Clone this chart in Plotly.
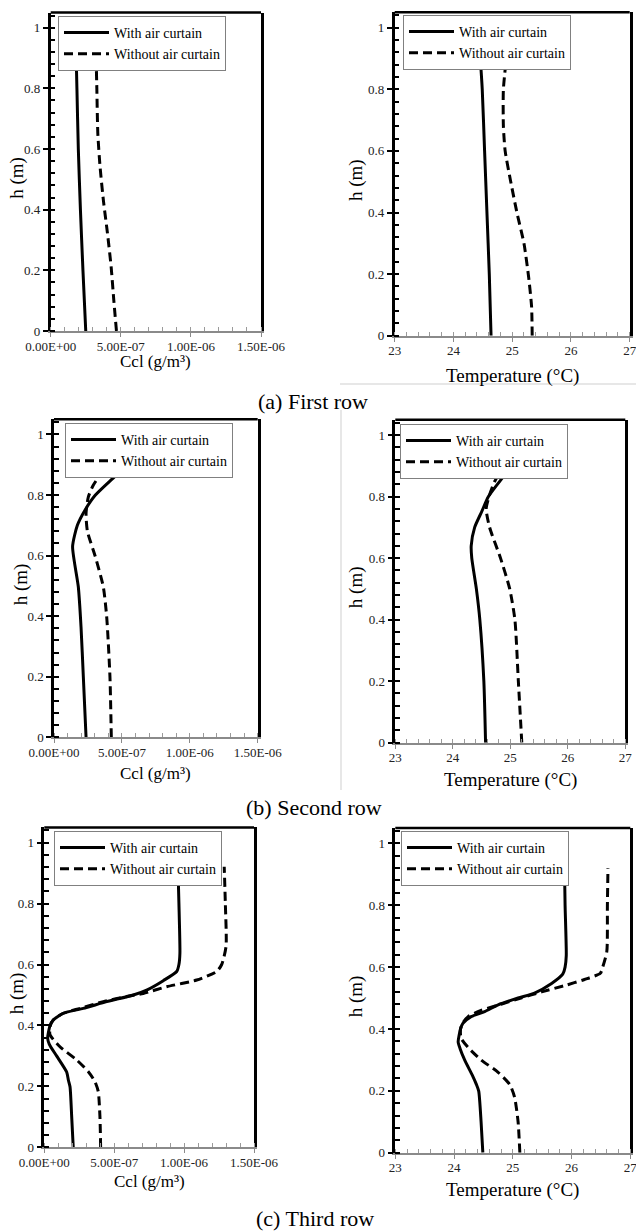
import plotly.graph_objects as go

W, H = 636, 1232
FONT = "Liberation Serif"

# ---------------- data ----------------
# (a) First row
h_a_with = [0, 0.2, 0.4, 0.6, 0.8, 0.92]
ccl_a_with = [2.50e-7, 2.30e-7, 2.12e-7, 1.97e-7, 1.87e-7, 1.81e-7]
h_a_without = [0, 0.102, 0.212, 0.322, 0.43, 0.542, 0.652, 0.8, 0.90]
ccl_a_without = [4.69e-7, 4.50e-7, 4.31e-7, 4.05e-7, 3.76e-7, 3.52e-7, 3.36e-7, 3.29e-7, 3.24e-7]

h_ta_with = [0, 0.2, 0.4, 0.6, 0.8, 0.92]
temp_a_with = [24.64, 24.61, 24.57, 24.53, 24.49, 24.45]
h_ta_without = [0, 0.094, 0.19, 0.30, 0.40, 0.505, 0.60, 0.68, 0.80, 0.917]
temp_a_without = [25.34, 25.33, 25.28, 25.20, 25.08, 24.97, 24.88, 24.85, 24.85, 24.91]

# (b) Second row
h_b_with = [0, 0.2, 0.365, 0.497, 0.63, 0.70, 0.75, 0.80, 0.86, 0.92]
ccl_b_with = [2.36e-7, 2.16e-7, 1.99e-7, 1.79e-7, 1.37e-7, 1.72e-7, 2.28e-7, 3.05e-7, 4.45e-7, 5.84e-7]
h_b_without = [0, 0.2, 0.398, 0.497, 0.60, 0.68, 0.74, 0.794, 0.833, 0.88, 0.92]
ccl_b_without = [4.22e-7, 4.12e-7, 3.88e-7, 3.63e-7, 3.02e-7, 2.46e-7, 2.36e-7, 2.53e-7, 2.90e-7, 3.63e-7, 4.73e-7]

h_tb_with = [0, 0.2, 0.4, 0.5, 0.6, 0.64, 0.7, 0.75, 0.8, 0.86, 0.92]
temp_b_with = [24.57, 24.54, 24.47, 24.41, 24.33, 24.32, 24.38, 24.50, 24.62, 24.86, 25.12]
h_tb_without = [0, 0.2, 0.4, 0.5, 0.6, 0.7, 0.76, 0.8, 0.85, 0.91]
temp_b_without = [25.20, 25.14, 25.08, 24.99, 24.83, 24.64, 24.58, 24.63, 24.73, 24.94]

# (c) Third row
h_c_with = [0, 0.1, 0.199, 0.221, 0.247, 0.30, 0.338, 0.358, 0.40, 0.418, 0.44, 0.456,
            0.478, 0.50, 0.516, 0.547, 0.577, 0.60, 0.637, 0.80, 0.921]
ccl_c_with = [2.07e-7, 1.96e-7, 1.84e-7, 1.72e-7, 1.60e-7, 0.88e-7, 0.36e-7, 0.24e-7, 0.41e-7,
              0.64e-7, 1.36e-7, 2.79e-7, 4.46e-7, 6.37e-7, 7.32e-7, 8.51e-7, 9.47e-7, 9.63e-7,
              9.70e-7, 9.63e-7, 9.56e-7]
h_c_without = [0, 0.1, 0.183, 0.216, 0.248, 0.287, 0.33, 0.369, 0.396, 0.418, 0.44, 0.456,
               0.478, 0.495, 0.505, 0.527, 0.549, 0.577, 0.60, 0.659, 0.80, 0.921]
ccl_c_without = [4.03e-7, 3.98e-7, 3.86e-7, 3.62e-7, 3.15e-7, 2.31e-7, 1.12e-7, 0.41e-7, 0.41e-7,
                 0.64e-7, 1.36e-7, 2.55e-7, 4.22e-7, 5.89e-7, 7.08e-7, 8.75e-7, 10.9e-7, 12.33e-7,
                 12.69e-7, 13.0e-7, 12.95e-7, 12.87e-7]

h_tc_with = [0, 0.1, 0.199, 0.221, 0.247, 0.30, 0.338, 0.358, 0.40, 0.418, 0.44, 0.456,
             0.478, 0.50, 0.516, 0.547, 0.577, 0.60, 0.637, 0.80, 0.921]
temp_c_with = [24.49, 24.46, 24.42, 24.38, 24.32, 24.18, 24.10, 24.07, 24.11, 24.15, 24.29, 24.52,
               24.75, 25.09, 25.37, 25.66, 25.85, 25.89, 25.91, 25.89, 25.88]
h_tc_without = [0, 0.1, 0.18, 0.22, 0.26, 0.30, 0.34, 0.37, 0.40, 0.42, 0.44, 0.46, 0.48, 0.50,
                0.52, 0.54, 0.56, 0.58, 0.60, 0.65, 0.80, 0.92]
temp_c_without = [25.12, 25.09, 25.03, 24.95, 24.75, 24.46, 24.24, 24.12, 24.11, 24.15, 24.24, 24.46,
                  24.80, 25.14, 25.49, 25.88, 26.22, 26.49, 26.53, 26.60, 26.61, 26.62]

series_names = ["With air curtain", "Without air curtain"]
captions = ["(a) First row", "(b) Second row", "(c) Third row"]
ccl_tickvals = [0, 5e-7, 1e-6, 1.5e-6]
ccl_ticktext = ["0.00E+00", "5.00E-07", "1.00E-06", "1.50E-06"]
temp_tickvals = [23, 24, 25, 26, 27]
temp_ticktext = ["23", "24", "25", "26", "27"]
h_tickvals = [0, 0.2, 0.4, 0.6, 0.8, 1]
h_ticktext = ["0", "0.2", "0.4", "0.6", "0.8", "1"]
x_title_ccl = "Ccl (g/m³)"
x_title_temp = "Temperature (°C)"
y_title = "h (m)"

panels = [
    dict(kind="ccl", h1=h_a_with, v1=ccl_a_with, h2=h_a_without, v2=ccl_a_without),
    dict(kind="temp", h1=h_ta_with, v1=temp_a_with, h2=h_ta_without, v2=temp_a_without),
    dict(kind="ccl", h1=h_b_with, v1=ccl_b_with, h2=h_b_without, v2=ccl_b_without),
    dict(kind="temp", h1=h_tb_with, v1=temp_b_with, h2=h_tb_without, v2=temp_b_without),
    dict(kind="ccl", h1=h_c_with, v1=ccl_c_with, h2=h_c_without, v2=ccl_c_without),
    dict(kind="temp", h1=h_tc_with, v1=temp_c_with, h2=h_tc_without, v2=temp_c_without),
]

# ---------------- layout geometry (pixels) ----------------
# (left, right, top, bottom) of each plot area
boxes = [
    (50.7, 261.0, 12.5, 331.0),
    (394.7, 629.7, 12.3, 335.7),
    (54.0, 257.7, 419.3, 737.3),
    (395.3, 625.3, 419.7, 742.7),
    (44.3, 254.0, 827.4, 1147.3),
    (395.3, 630.3, 827.9, 1152.7),
]
legend_pos = [(58, 16), (403, 15), (65, 423), (400, 424), (54, 831), (401, 831)]
xtitle_y = [362, 376, 773, 780, 1181, 1190]
xtitle_size = [17, 19, 17, 19, 17, 19]
ytitle_x = [17, 356, 21, 356, 17, 356]
caption_pos = [(313, 401), (314, 807), (315, 1218)]

fig = go.Figure()
layout = dict(
    width=W, height=H,
    margin=dict(l=0, r=0, t=0, b=0, autoexpand=False),
    paper_bgcolor="white", plot_bgcolor="white",
    font=dict(family=FONT, color="black"),
    showlegend=True,
)
annotations = []
shapes = []

for i, p in enumerate(panels):
    n = i + 1
    xa = "xaxis" if n == 1 else f"xaxis{n}"
    ya = "yaxis" if n == 1 else f"yaxis{n}"
    xr = "x" if n == 1 else f"x{n}"
    yr = "y" if n == 1 else f"y{n}"
    lg = "legend" if n == 1 else f"legend{n}"
    l, r, t, b = boxes[i]
    xd = [l / W, r / W]
    yd = [1 - b / H, 1 - t / H]

    fig.add_trace(go.Scatter(x=p["v1"], y=p["h1"], mode="lines", name=series_names[0],
                             line=dict(color="black", width=3, shape="spline", smoothing=0.6),
                             xaxis=xr, yaxis=yr, legend=lg, hoverinfo="skip"))
    fig.add_trace(go.Scatter(x=p["v2"], y=p["h2"], mode="lines", name=series_names[1],
                             line=dict(color="black", width=3, dash="9px,5px", shape="spline", smoothing=0.6),
                             xaxis=xr, yaxis=yr, legend=lg, hoverinfo="skip"))

    if p["kind"] == "ccl":
        xrange = [0, 1.5e-6]
        tv, tt = ccl_tickvals, ccl_ticktext
        mdt = 1e-7
        xt = x_title_ccl
    else:
        xrange = [23, 27]
        tv, tt = temp_tickvals, temp_ticktext
        mdt = 0.2
        xt = x_title_temp

    layout[xa] = dict(
        domain=xd, anchor=yr, range=xrange, tickmode="array", tickvals=tv, ticktext=tt,
        automargin=False, ticklabeloverflow="allow",
        showgrid=False, zeroline=False, showline=True, linecolor="#8a8a8a", linewidth=2,
        ticks="outside", ticklen=4, tickwidth=1, tickcolor="#8a8a8a",
        ticklabelstandoff=-2,
        tickfont=dict(family=FONT, size=13, color="#222"),
        minor=dict(tickmode="linear", tick0=xrange[0], dtick=mdt, ticks="inside",
                   ticklen=4, tickwidth=1, tickcolor="#9a9a9a", showgrid=False),
        fixedrange=True,
    )
    layout[ya] = dict(
        domain=yd, anchor=xr, range=[0, 1.05], tickmode="array", tickvals=h_tickvals,
        ticktext=h_ticktext, automargin=False, showgrid=False, zeroline=False, showline=True,
        linecolor="black", linewidth=2.5, mirror=True,
        ticks="outside", ticklen=5, tickwidth=2, tickcolor="black",
        tickfont=dict(family=FONT, size=13, color="#222"),
        minor=dict(tickmode="linear", tick0=0, dtick=0.04, ticks="inside",
                   ticklen=5, tickwidth=2, tickcolor="black", showgrid=False),
        fixedrange=True,
    )
    lx, ly = legend_pos[i]
    layout[lg] = dict(
        x=lx / W, y=1 - ly / H, xanchor="left", yanchor="top",
        bgcolor="white", bordercolor="#808080", borderwidth=1,
        font=dict(family=FONT, size=14, color="black"),
        tracegroupgap=0, itemwidth=45, itemclick=False, itemdoubleclick=False,
    )
    # top border of the frame
    shapes.append(dict(type="line", xref="paper", yref="paper",
                       x0=xd[0], x1=xd[1], y0=yd[1], y1=yd[1],
                       line=dict(color="black", width=2.5)))
    # axis titles
    annotations.append(dict(text=xt, xref="paper", yref="paper",
                            x=(l + r) / 2 / W, y=1 - xtitle_y[i] / H,
                            xanchor="center", yanchor="middle", showarrow=False,
                            font=dict(family=FONT, size=xtitle_size[i], color="black")))
    annotations.append(dict(text=y_title, xref="paper", yref="paper",
                            x=ytitle_x[i] / W, y=1 - ((t + b) / 2 + 6) / H,
                            xanchor="center", yanchor="middle", textangle=-90, showarrow=False,
                            font=dict(family=FONT, size=19, color="black")))

for cap, (cx, cy) in zip(captions, caption_pos):
    annotations.append(dict(text=cap, xref="paper", yref="paper", x=cx / W, y=1 - cy / H,
                            xanchor="center", yanchor="middle", showarrow=False,
                            font=dict(family=FONT, size=22, color="black")))

# faint separator lines from the source page
shapes.append(dict(type="line", xref="paper", yref="paper", x0=340 / W, x1=1,
                   y0=1 - 384 / H, y1=1 - 384 / H, line=dict(color="#cfcfcf", width=1)))
shapes.append(dict(type="line", xref="paper", yref="paper", x0=341 / W, x1=341 / W,
                   y0=1 - 410 / H, y1=1 - 790 / H, line=dict(color="#cfcfcf", width=1)))

layout["annotations"] = annotations
layout["shapes"] = shapes
fig.update_layout(**layout)
fig.write_html(
    "out.html",
    config={"displayModeBar": False},
    post_script="document.body.style.margin='0px';document.body.style.overflow='hidden';",
)
